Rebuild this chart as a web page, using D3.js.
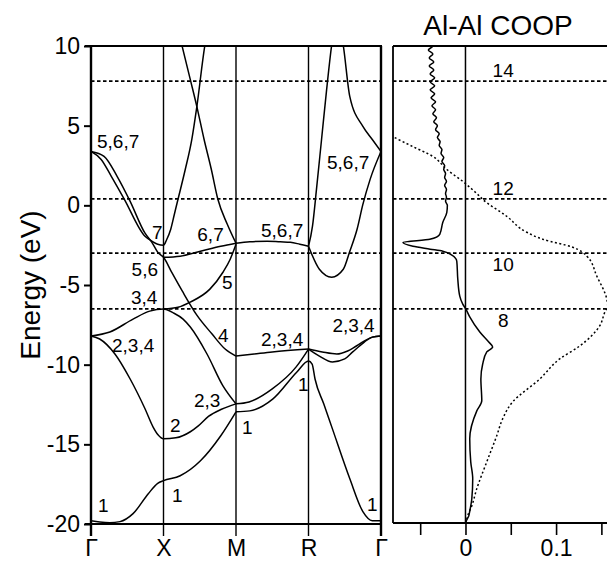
<!DOCTYPE html>
<html>
<head>
<meta charset="utf-8">
<script src="https://cdn.jsdelivr.net/npm/d3@7"></script>
<style>
body { margin: 0; background: #fff; }
svg text { font-family: "Liberation Sans", Arial, Helvetica, sans-serif; fill: #000; }
</style>
</head>
<body>
<svg width="607" height="561"></svg>
<script>
// k path: Γ=0, X=1, M=2, R=3, Γ=4 ; energies in eV
var kPoints = [0, 1, 2, 3, 4];
var kLabels = ["Γ", "X", "M", "R", "Γ"];
var energyTicks = [10, 5, 0, -5, -10, -15, -20];
var coopTicks = [-0.05, 0, 0.05, 0.1, 0.15];

// electron-count Fermi levels
var countLevels = [7.8, 0.4, -3.0, -6.5];
var countLabels = ["14", "12", "10", "8"];

// bands [k, E]
var band1 = [[0,-19.8],[0.12,-19.88],[0.26,-19.92],[0.4,-19.85],[0.58,-19.35],[0.79,-18.1],[0.92,-17.45],[1,-17.28],[1.23,-16.97],[1.51,-16.03],[1.79,-14.46],[2,-12.96]];
var band1b = [[2,-12.96],[2.19,-12.9],[2.51,-12.15],[2.84,-10.46],[3,-9.77],[3.05,-9.96],[3.09,-10.9],[3.21,-12.46],[3.33,-14.03],[3.57,-17.16],[3.75,-19.22],[3.88,-19.79],[4,-19.8]];
var band2 = [[0,-8.2],[0.12,-8.39],[0.33,-9.33],[0.54,-10.9],[0.745,-12.77],[0.855,-13.9],[0.924,-14.4],[1,-14.65],[1.17,-14.59],[1.37,-14.21],[1.48,-13.84],[1.62,-13.25],[1.8,-12.8],[2,-12.46]];
var band34 = [[0,-8.2],[0.26,-7.95],[0.58,-7.14],[0.81,-6.64],[1,-6.51],[1.14,-6.76],[1.27,-7.14],[1.37,-7.64],[1.6,-9.33],[1.82,-11.33],[2,-12.46]];
var band5 = [[1,-6.51],[1.2,-6.4],[1.37,-6.07],[1.64,-5.26],[1.82,-4.2],[1.92,-3.38],[2,-2.44]];
var bandInner = [[0,3.38],[0.14,2.88],[0.28,1.82],[0.46,0.38],[0.745,-1.94],[0.84,-2.25],[0.92,-2.44],[1,-2.5],[1.04,-2.19],[1.1,-1.5],[1.15,-0.56],[1.2,0.38],[1.3,2.25],[1.39,4.13],[1.46,6.2],[1.57,10.02],[1.61,11.02]];
var bandOuter = [[0,3.38],[0.18,3.07],[0.36,1.82],[0.54,0.25],[0.745,-1.75],[0.84,-2.32],[0.92,-2.94],[1,-3.26],[1.12,-4.26],[1.26,-5.39],[1.46,-6.89],[1.67,-8.08],[1.85,-9.02],[2,-9.46]];
var band6 = [[1,-3.26],[1.23,-3.19],[1.51,-2.88],[1.79,-2.57],[2,-2.38]];
var band7 = [[1.2,11.02],[1.255,10.02],[1.37,7.89],[1.46,6.2],[1.56,4.13],[1.66,2.25],[1.75,0.38],[1.88,-1.19],[2,-2.38]];
var band23MR = [[2,-12.46],[2.18,-12.34],[2.5,-11.52],[2.83,-10.14],[3,-9.02]];
var band4MR = [[2,-9.46],[2.25,-9.33],[2.5,-9.2],[3,-9.02]];
var band567MR = [[2,-2.38],[2.19,-2.29],[2.43,-2.25],[2.61,-2.29],[2.75,-2.32],[2.88,-2.44],[3,-2.57]];
var band234aRG = [[3,-9.02],[3.15,-9.46],[3.33,-9.83],[3.5,-9.64],[3.61,-9.2],[3.77,-8.58],[3.88,-8.27],[4,-8.2]];
var band234bRG = [[3,-9.02],[3.19,-9.2],[3.39,-9.33],[3.54,-9.14],[3.66,-8.83],[3.88,-8.27],[4,-8.2]];
var bandDipRG = [[3,-2.57],[3.15,-4.01],[3.32,-4.51],[3.48,-4.01],[3.57,-2.88],[3.67,-1.5],[3.75,0.06],[3.85,1.63],[4,3.38]];
var bandUpRG = [[3,-2.57],[3.055,-1.31],[3.11,1.0],[3.18,4.13],[3.25,7.26],[3.33,10.39],[3.4,11.8],[3.48,10.02],[3.57,6.82],[3.75,4.95],[3.88,4.13],[4,3.38]];

// band degeneracy labels [k, E, text]
var bandLabels = [
  [0.083, 3.57, "5,6,7"], [0.841, -2.13, "7"], [0.56, -4.45, "5,6"], [0.55, -6.2, "3,4"],
  [0.29, -9.2, "2,3,4"], [1.09, -14.21, "2"], [1.117, -18.6, "1"], [0.097, -19.22, "1"],
  [1.466, -2.25, "6,7"], [1.807, -5.26, "5"], [1.752, -8.58, "4"], [1.42, -12.65, "2,3"],
  [2.083, -14.34, "1"], [2.345, -2.0, "5,6,7"], [2.345, -8.83, "2,3,4"], [2.855, -11.65, "1"],
  [3.255, 2.25, "5,6,7"], [3.33, -7.95, "2,3,4"], [3.807, -19.16, "1"]
];

// Al-Al COOP [E, value], solid
var coopCurve = [[10.4,-0.038],[10,-0.036],[9.75,-0.041],[9.5,-0.036],[9.25,-0.040],[9,-0.035],[8.75,-0.040],[8.5,-0.035],[8.25,-0.039],[8,-0.034],[7.75,-0.039],[7.5,-0.034],[7.25,-0.039],[7,-0.034],[6.75,-0.038],[6.5,-0.033],[6.25,-0.037],[6,-0.033],[5.75,-0.036],[5.5,-0.032],[5.25,-0.035],[5,-0.031],[4.75,-0.033],[4.5,-0.029],[4.25,-0.031],[4,-0.028],[3.75,-0.029],[3.5,-0.026],[3.25,-0.027],[3,-0.024],[2.75,-0.026],[2.5,-0.023],[2.25,-0.024],[2,-0.022],[1.75,-0.023],[1.5,-0.021],[1.25,-0.023],[1,-0.021],[0.75,-0.022],[0.5,-0.021],[0.25,-0.022],[0,-0.020],[-0.44,-0.0206],[-1.06,-0.025],[-1.82,-0.0284],[-2.13,-0.0394],[-2.32,-0.069],[-2.57,-0.058],[-2.75,-0.039],[-2.88,-0.025],[-3.13,-0.015],[-3.51,-0.0096],[-4.63,-0.0085],[-5.7,-0.0063],[-6.2,-0.003],[-6.5,0.0003],[-7,0.0047],[-7.95,0.0158],[-8.58,0.0257],[-8.89,0.030],[-9.2,0.0235],[-9.96,0.019],[-10.9,0.017],[-12.27,0.018],[-12.9,0.0125],[-14.65,0.0047],[-16.1,0.0058],[-17.16,0.008],[-18.4,0.007],[-19.2,0.0047],[-19.5,0.0036],[-19.8,0.001],[-20,0]];
// integrated overlap population [E, value], dotted
var overlapCurve = [[5.5,-0.11],[4.32,-0.0802],[3.69,-0.0582],[3.07,-0.036],[2.25,-0.0206],[1.5,-0.003],[0.56,0.0158],[0.38,0.019],[-0.69,0.0456],[-1.69,0.0677],[-2.13,0.0853],[-2.63,0.1184],[-3.19,0.134],[-4.45,0.145],[-5.89,0.156],[-6.3,0.157],[-6.7,0.1538],[-7.58,0.148],[-8.83,0.126],[-9.64,0.104],[-10.9,0.082],[-12.34,0.052],[-13.4,0.041],[-14.46,0.0345],[-16.1,0.0235],[-17.78,0.0125],[-18.85,0.007],[-19.47,0.0025],[-19.79,0.001],[-20,0]];

var bands = [band1, band1b, band2, band34, band5, bandInner, bandOuter, band6, band7,
             band23MR, band4MR, band567MR, band234aRG, band234bRG, bandDipRG, bandUpRG];

var svg = d3.select("svg");
var FONT = '"Liberation Sans", Arial, Helvetica, sans-serif';

var pLeft = 91, pRight = 381, pTop = 46, pBottom = 524;
var x = d3.scaleLinear().domain([0, 4]).range([pLeft, pRight]);
var y = d3.scaleLinear().domain([-20, 10]).range([pBottom, pTop]);
var cLeft = 393, cRight = 619.5;
var cx = d3.scaleLinear().domain([-0.08, 0.17]).range([cLeft, cRight]);

var defs = svg.append("defs");
defs.append("clipPath").attr("id", "clipL").append("rect")
  .attr("x", pLeft).attr("y", pTop).attr("width", pRight - pLeft).attr("height", pBottom - pTop);
defs.append("clipPath").attr("id", "clipR").append("rect")
  .attr("x", cLeft).attr("y", pTop).attr("width", cRight - cLeft).attr("height", pBottom - pTop);

// ---- left panel: band structure
var gL = svg.append("g");

// k-point vertical lines (with ticks below frame)
gL.selectAll("line.kline").data(kPoints).enter().append("line")
  .attr("class", "kline")
  .attr("x1", function(d){ return x(d); }).attr("x2", function(d){ return x(d); })
  .attr("y1", pTop).attr("y2", pBottom + 12)
  .attr("stroke", "#000")
  .attr("stroke-width", function(d,i){ return (i === 0 || i === 4) ? 2.4 : 1.4; });

// Fermi level lines
gL.selectAll("line.lev").data(countLevels).enter().append("line")
  .attr("x1", pLeft).attr("x2", pRight)
  .attr("y1", function(d){ return y(d); }).attr("y2", function(d){ return y(d); })
  .attr("stroke", "#000").attr("stroke-width", 1.7).attr("stroke-dasharray", "3.5,2.5");

var bandLine = d3.line()
  .x(function(d){ return x(d[0]); })
  .y(function(d){ return y(d[1]); })
  .curve(d3.curveMonotoneX);

gL.append("g").attr("clip-path", "url(#clipL)")
  .selectAll("path").data(bands).enter().append("path")
  .attr("d", bandLine)
  .attr("fill", "none").attr("stroke", "#000").attr("stroke-width", 1.5);

gL.append("line").attr("x1", pLeft - 6).attr("x2", pRight + 1).attr("y1", pTop).attr("y2", pTop)
  .attr("stroke", "#000").attr("stroke-width", 2);
gL.append("line").attr("x1", pLeft - 6).attr("x2", pRight + 1).attr("y1", pBottom).attr("y2", pBottom)
  .attr("stroke", "#000").attr("stroke-width", 2);

gL.selectAll("text.blab").data(bandLabels).enter().append("text")
  .attr("x", function(d){ return x(d[0]); })
  .attr("y", function(d){ return y(d[1]); })
  .attr("font-size", 19)
  .text(function(d){ return d[2]; });

// energy axis
var yAxis = d3.axisLeft(y).tickValues(energyTicks).tickSize(7).tickPadding(4)
  .tickFormat(function(d){ return String(d); });
var gy = svg.append("g").attr("transform", "translate(" + pLeft + ",0)").call(yAxis);
gy.select(".domain").remove();
gy.selectAll(".tick line").attr("stroke-width", 2);
gy.selectAll("text").attr("font-size", 23).attr("font-family", FONT);

// k axis labels
var kAxis = d3.axisBottom(x).tickValues(kPoints).tickSize(0).tickPadding(16)
  .tickFormat(function(d, i){ return kLabels[i]; });
var gk = svg.append("g").attr("transform", "translate(0," + pBottom + ")").call(kAxis);
gk.select(".domain").remove();
gk.selectAll("text").attr("font-size", 23).attr("font-family", FONT);

svg.append("text")
  .attr("transform", "translate(40," + 285 + ") rotate(-90)")
  .attr("text-anchor", "middle")
  .attr("font-size", 28)
  .text("Energy (eV)");

// ---- right panel: COOP
var gR = svg.append("g");

gR.selectAll("line.lev").data(countLevels).enter().append("line")
  .attr("x1", cLeft).attr("x2", cRight)
  .attr("y1", function(d){ return y(d); }).attr("y2", function(d){ return y(d); })
  .attr("stroke", "#000").attr("stroke-width", 1.7).attr("stroke-dasharray", "3.5,2.5");

gR.selectAll("text.clab").data(countLevels).enter().append("text")
  .attr("x", cx(0.0416))
  .attr("y", function(d, i){ return y(d) + (i < 2 ? -4 : 18); })
  .attr("text-anchor", "middle")
  .attr("font-size", 19)
  .text(function(d, i){ return countLabels[i]; });

gR.append("line").attr("x1", cx(0)).attr("x2", cx(0)).attr("y1", pTop).attr("y2", pBottom)
  .attr("stroke", "#000").attr("stroke-width", 1.5);

var gRc = gR.append("g").attr("clip-path", "url(#clipR)");
gRc.append("path").datum(overlapCurve)
  .attr("d", d3.line()
    .x(function(d){ return cx(d[1]); })
    .y(function(d){ return y(d[0]); })
    .curve(d3.curveMonotoneY))
  .attr("fill", "none").attr("stroke", "#000").attr("stroke-width", 1.5)
  .attr("stroke-dasharray", "2,2.4");
gRc.append("path").datum(coopCurve)
  .attr("d", d3.line()
    .x(function(d){ return cx(d[1]); })
    .y(function(d){ return y(d[0]); })
    .curve(d3.curveMonotoneY))
  .attr("fill", "none").attr("stroke", "#000").attr("stroke-width", 1.5);

// frame of right panel
gR.append("line").attr("x1", cLeft).attr("x2", 607).attr("y1", pTop).attr("y2", pTop)
  .attr("stroke", "#000").attr("stroke-width", 2);
gR.append("line").attr("x1", cLeft).attr("x2", 607).attr("y1", pBottom - 1).attr("y2", pBottom - 1)
  .attr("stroke", "#000").attr("stroke-width", 2);
gR.append("line").attr("x1", cLeft).attr("x2", cLeft).attr("y1", pTop).attr("y2", pBottom - 1)
  .attr("stroke", "#000").attr("stroke-width", 1.8);

var cAxis = d3.axisBottom(cx).tickValues(coopTicks).tickSize(12).tickPadding(5)
  .tickFormat(function(d){ return d === 0 ? "0" : (d === 0.1 ? "0.1" : ""); });
var gc = svg.append("g").attr("transform", "translate(0," + (pBottom - 1) + ")").call(cAxis);
gc.select(".domain").remove();
gc.selectAll(".tick line").attr("stroke-width", 1.6);
gc.selectAll("text").attr("font-size", 23).attr("font-family", FONT);

svg.append("text")
  .attr("x", 498).attr("y", 35)
  .attr("text-anchor", "middle")
  .attr("font-size", 28)
  .text("Al-Al COOP");
</script>
</body>
</html>
